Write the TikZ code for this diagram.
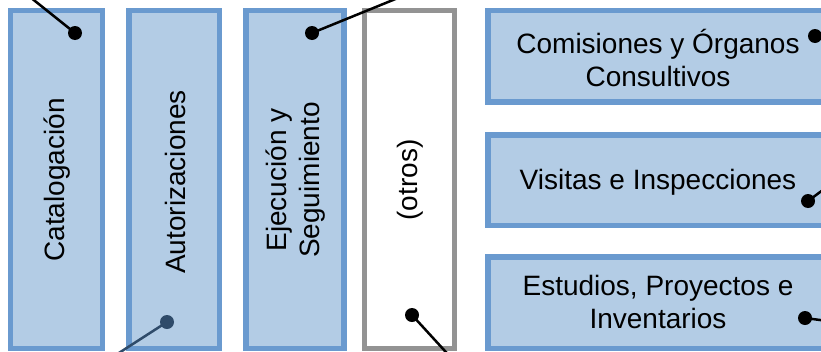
\documentclass[tikz,border=0pt]{standalone}
\usepackage{fontspec}
\setmainfont{Liberation Sans}
\definecolor{boxfill}{HTML}{B3CCE5}
\definecolor{boxedge}{HTML}{6A9ACF}
\definecolor{greyedge}{HTML}{939393}
\definecolor{darkdot}{HTML}{2F4B6A}
\begin{document}
\begin{tikzpicture}[x=1pt,y=-1pt,
  bluebox/.style={draw=boxedge,fill=boxfill,line width=5.5pt},
  greybox/.style={draw=greyedge,fill=white,line width=5pt},
  lbl/.style={font=\fontsize{28}{33}\selectfont,align=center,inner sep=0pt},
  dotnode/.style={circle,fill=black,inner sep=0pt,minimum size=14pt},
  conn/.style={line width=2.5pt,black}]
\useasboundingbox (0,0) rectangle (821,351);
\clip (0,0) rectangle (821,351);
% vertical boxes
\draw[bluebox] (10.5,10.5) rectangle (102.5,348.5);
\draw[bluebox] (129,10.5) rectangle (219.5,348.5);
\draw[bluebox] (246,10.5) rectangle (344,348.5);
\draw[greybox] (364.5,10.5) rectangle (454.5,348.5);
% horizontal boxes
\draw[bluebox] (488,10.5) rectangle (828,102);
\draw[bluebox] (488,135) rectangle (828,225.5);
\draw[bluebox] (488,257) rectangle (828,348.5);
% labels
\node[lbl,rotate=90] (t1) at (57,180) {Catalogación};
\node[lbl,rotate=90] (t2) at (175,182) {Autorizaciones};
\node[lbl,rotate=90] (t3) at (296,180) {Ejecución y\\Seguimiento};
\node[lbl,rotate=90] (t4) at (410,180) {(otros)};
\node[lbl] (t5) at (658,58) {Comisiones y Órganos\\Consultivos};
\node[lbl] (t6) at (658,182) {Visitas e Inspecciones};
\node[lbl] (t7) at (658,302) {Estudios, Proyectos e\\Inventarios};
% dots
\node[dotnode] (d1) at (75,33) {};
\node[dotnode] (d2) at (312,33) {};
\node[dotnode,fill=darkdot] (d3) at (167,322) {};
\node[dotnode] (d4) at (412,315) {};
\node[dotnode] (d5) at (815,36) {};
\node[dotnode] (d6) at (808,201) {};
\node[dotnode] (d7) at (805,318) {};
% free ends
\coordinate (e1) at (20,-11);
\coordinate (e2) at (420,-11);
\coordinate (e3) at (108,360);
\coordinate (e4) at (455,362);
\coordinate (e5) at (840,28);
\coordinate (e6) at (835,181);
\coordinate (e7) at (835,322);
\draw[conn] (d1.center) -- (e1);
\draw[conn] (d2.center) -- (e2);
\draw[conn,darkdot] (d3.center) -- (e3);
\draw[conn] (d4.center) -- (e4);
\draw[conn] (d5.center) -- (e5);
\draw[conn] (d6.center) -- (e6);
\draw[conn] (d7.center) -- (e7);
\end{tikzpicture}
\end{document}
